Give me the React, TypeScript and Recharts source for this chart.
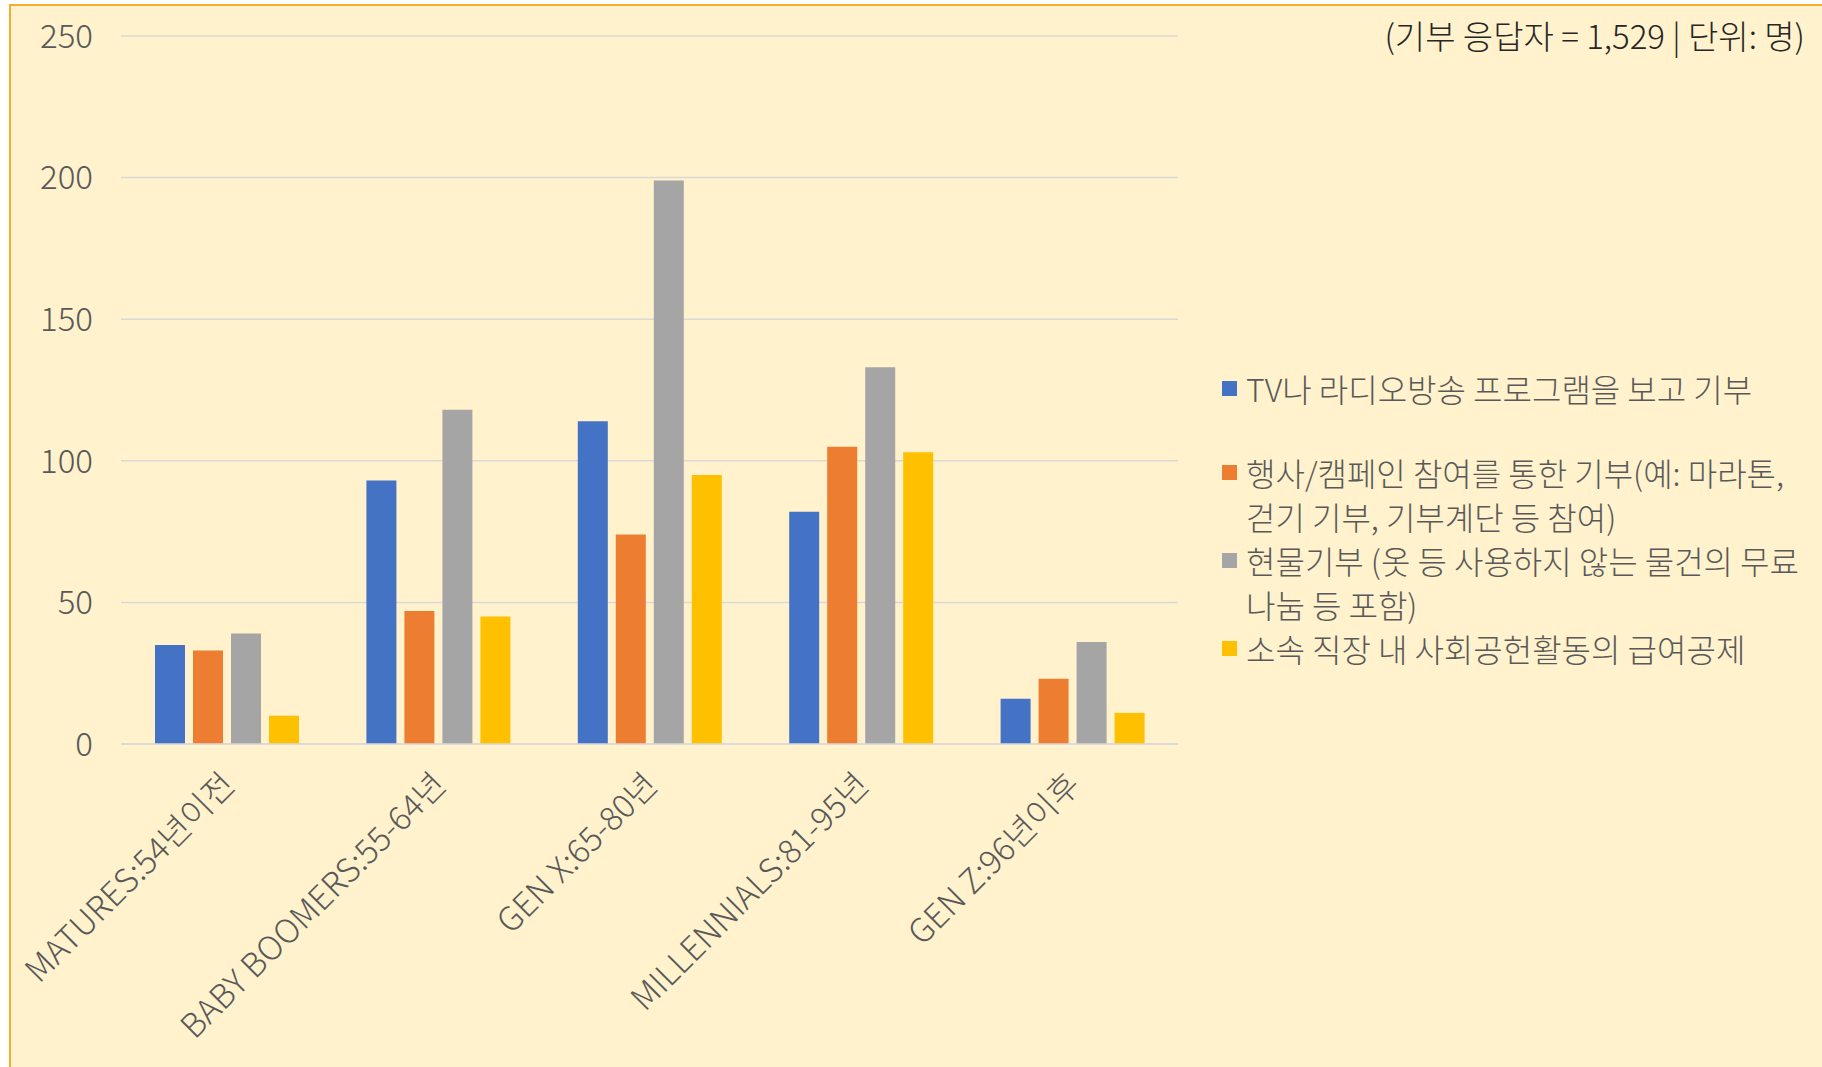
import React from 'react';
import { BarChart, Bar, XAxis, YAxis, CartesianGrid } from 'recharts';

const generations = [
  'MATURES:54년이전',
  'BABY BOOMERS:55-64년',
  'GEN X:65-80년',
  'MILLENNIALS:81-95년',
  'GEN Z:96년이후',
];

const tvRadio = [35, 93, 114, 82, 16];
const eventCampaign = [33, 47, 74, 105, 23];
const inKind = [39, 118, 199, 133, 36];
const payroll = [10, 45, 95, 103, 11];

const yTicks = [0, 50, 100, 150, 200, 250];

const seriesInfo = [
  { key: 'tv', name: 'TV나 라디오방송 프로그램을 보고 기부', color: '#4472C4' },
  { key: 'event', name: '행사/캠페인 참여를 통한 기부(예: 마라톤, 걷기 기부, 기부계단 등 참여)', color: '#ED7D31' },
  { key: 'goods', name: '현물기부 (옷 등 사용하지 않는 물건의 무료 나눔 등 포함)', color: '#A5A5A5' },
  { key: 'payroll', name: '소속 직장 내 사회공헌활동의 급여공제', color: '#FFC000' },
];

const data = generations.map((name, i) => ({
  name,
  tv: tvRadio[i],
  event: eventCampaign[i],
  goods: inKind[i],
  payroll: payroll[i],
}));

const FONT = '"Noto Sans CJK KR", "Noto Sans", sans-serif';

// rotated category labels, end of text sits under the category centre
const AngledTick = ({ x, y, payload }: any) => (
  <g transform={`translate(${x},${y + 25})`}>
    <text
      x={0}
      y={0}
      textAnchor="end"
      dominantBaseline="central"
      transform="rotate(-45)"
      fill="#595959"
      fontSize={33}
      fontWeight={300}
      fontFamily={FONT}
    >
      {payload.value}
    </text>
  </g>
);

const LegendBox = () => (
  <div
    style={{
      position: 'absolute',
      left: 1222,
      top: 366,
      fontFamily: FONT,
      fontSize: 32,
      fontWeight: 300,
      lineHeight: '44px',
      color: '#595959',
    }}
  >
    {seriesInfo.map((s, i) => (
      <div
        key={s.key}
        style={{
          display: 'flex',
          alignItems: 'flex-start',
          marginTop: i === 1 ? 40 : 0,
        }}
      >
        <span
          style={{
            display: 'inline-block',
            width: 15,
            height: 15,
            background: s.color,
            marginTop: 15,
            marginRight: 9,
            flexShrink: 0,
          }}
        />
        <span style={{ wordBreak: 'keep-all', width: 570 }}>{s.name}</span>
      </div>
    ))}
  </div>
);

export default function App() {
  return (
    <div
      style={{
        position: 'fixed',
        left: 0,
        top: 0,
        width: 1822,
        height: 1067,
        overflow: 'hidden',
        background: '#ffffff',
      }}
    >
      <div
        style={{
          position: 'absolute',
          left: 9,
          top: 4,
          width: 1840,
          height: 1090,
          background: '#FFF2CC',
          borderLeft: '2px solid #F8AC2C',
          borderTop: '2px solid #F8AC2C',
        }}
      />
      <div
        style={{
          position: 'absolute',
          right: 17,
          top: 15,
          fontFamily: FONT,
          fontSize: 33,
          fontWeight: 300,
          lineHeight: '40px',
          color: '#262626',
          whiteSpace: 'nowrap',
        }}
      >
        (기부 응답자 = 1,529 | 단위: 명)
      </div>
      <div style={{ position: 'absolute', left: 0, top: 0 }}>
        <BarChart
          width={1822}
          height={1067}
          data={data}
          margin={{ top: 36, right: 644, bottom: 0, left: 0 }}
          barSize={30}
          barGap={8}
        >
          <CartesianGrid vertical={false} stroke="#D9D9D9" strokeWidth={1.5} />
          <XAxis
            dataKey="name"
            height={323}
            interval={0}
            tickLine={false}
            axisLine={{ stroke: '#D9D9D9', strokeWidth: 1.5 }}
            tick={<AngledTick />}
          />
          <YAxis
            width={121}
            domain={[0, 250]}
            ticks={yTicks}
            axisLine={false}
            tickLine={false}
            tickMargin={22}
            tick={{ fill: '#595959', fontSize: 33, fontWeight: 300, fontFamily: FONT }}
          />
          {seriesInfo.map((s) => (
            <Bar key={s.key} dataKey={s.key} name={s.name} fill={s.color} isAnimationActive={false} />
          ))}
        </BarChart>
      </div>
      <LegendBox />
    </div>
  );
}
